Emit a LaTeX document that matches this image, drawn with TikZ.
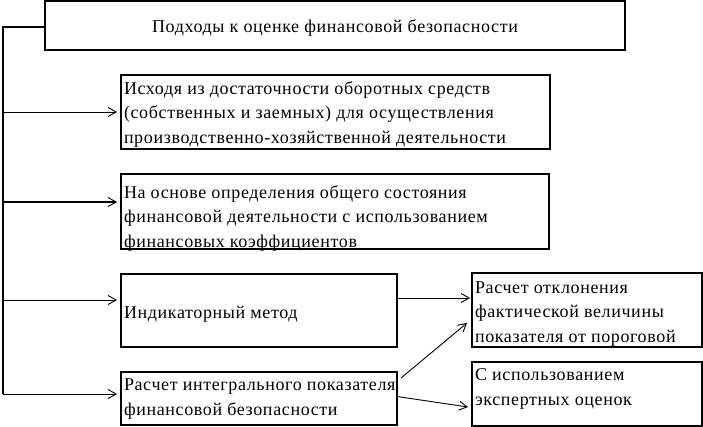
\documentclass[tikz,border=0pt]{standalone}
\usepackage{fontspec}
\setmainfont{Liberation Serif}[LetterSpace=3.5]
\usetikzlibrary{arrows.meta}
\tikzset{
  box/.style={draw, line width=1.2pt, rectangle, inner sep=0pt, outer sep=0pt, anchor=north west},
  txt/.style={inner sep=0pt, outer sep=0pt, anchor=base west, align=left, font=\fontsize{18}{24.5}\selectfont},
  conn/.style={line width=0.9pt, -{Straight Barb[length=8pt,width=9pt,line width=0.9pt]}},
  trunk/.style={line width=1.8pt},
}
\begin{document}
\begin{tikzpicture}[x=1pt,y=-1pt]
\useasboundingbox (0,0) rectangle (703,426);
% boxes
\node[box, line width=1.8pt, minimum width=580pt, minimum height=49pt] (t) at (45,1) {};
\node[inner sep=0pt, anchor=base, font=\fontsize{18}{24.5}\selectfont] (tt) at (335,32) {Подходы к оценке финансовой безопасности};
\node[box, minimum width=429pt, minimum height=74pt] (b1) at (121,75) {};
\node[box, line width=1.6pt, minimum width=428pt, minimum height=75pt] (b2) at (121,174) {};
\node[box, minimum width=276pt, minimum height=73pt] (b3) at (121,274) {};
\node[box, minimum width=276pt, minimum height=53pt] (b4) at (121,372) {};
\node[box, line width=1.6pt, minimum width=230pt, minimum height=74pt] (b5) at (472,273) {};
\node[box, line width=1.6pt, minimum width=230pt, minimum height=64pt] (b6) at (472,362) {};
% texts (anchored at the baseline of the last line)
\node[txt] (x1) at (124,143) {Исходя из достаточности оборотных средств\\(собственных и заемных) для осуществления\\производственно-хозяйственной деятельности};
\node[txt] (x2) at (124,247) {На основе определения общего состояния\\финансовой деятельности с использованием\\финансовых коэффициентов};
\node[txt] (x3) at (124,318) {Индикаторный метод};
\node[txt] (x4) at (124,415) {Расчет интегрального показателя\\финансовой безопасности};
\node[txt] (x5) at (475,342) {Расчет отклонения\\фактической величины\\показателя от пороговой};
\node[txt] (x6) at (475,405) {С использованием\\экспертных оценок};
% trunk
\coordinate (top) at (3,27);
\coordinate (j1) at (3,112);
\coordinate (j2) at (3,202);
\coordinate (j3) at (3,300);
\coordinate (j4) at (3,394);
\draw[trunk] (t.west |- top) -- (top) -- (j4);
\draw[conn, shorten >=4pt] (j1) -- (j1 -| b1.west);
\draw[conn, line width=1.6pt, shorten >=4pt] (j2) -- (j2 -| b2.west);
\draw[conn, shorten >=4pt] (j3) -- (j3 -| b3.west);
\draw[conn, shorten >=4pt] (j4) -- (j4 -| b4.west);
\draw[conn, shorten >=2pt] ([yshift=12.5pt]b3.east) -- ([yshift=12.5pt]b3.east -| b5.west);
\draw[conn] ([shift={(4pt,-6pt)}]b4.north east) -- ([shift={(-5pt,24pt)}]b5.south west);
\draw[conn] ([yshift=2pt]b4.east) -- ([shift={(-4pt,-13pt)}]b6.west);
\end{tikzpicture}
\end{document}
